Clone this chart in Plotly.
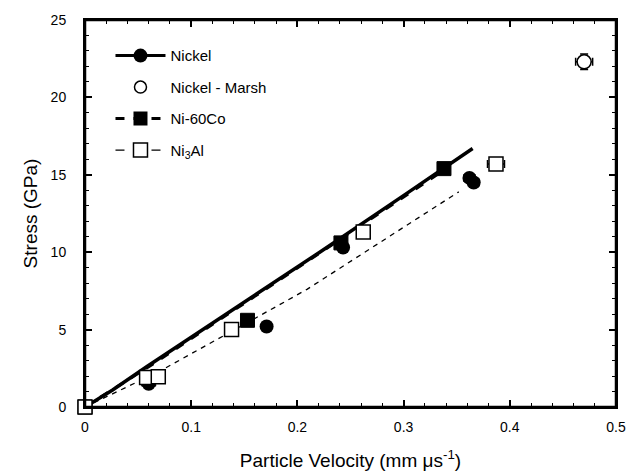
import plotly.graph_objects as go

# ---- data ----
nickel_x = [0.0, 0.060, 0.171, 0.243, 0.362, 0.366]
nickel_y = [0.0, 1.5, 5.2, 10.3, 14.8, 14.5]
nickel_xerr = [0, 0, 0, 0, 0.005, 0.005]

marsh_x = [0.470]
marsh_y = [22.3]
marsh_xerr = [0.008]
marsh_yerr = [0.5]

nico_x = [0.0, 0.060, 0.153, 0.241, 0.338]
nico_y = [0.0, 1.8, 5.6, 10.6, 15.4]
nico_xerr = [0, 0, 0, 0, 0.005]

ni3al_x = [0.0, 0.058, 0.069, 0.138, 0.262, 0.387]
ni3al_y = [0.0, 1.9, 1.95, 5.0, 11.3, 15.7]
ni3al_xerr = [0, 0, 0, 0, 0, 0.008]

# fitted / hugoniot curves
nickel_line_x = [0.0, 0.026, 0.058, 0.10, 0.152, 0.221, 0.303, 0.365]
nickel_line_y = [0.0, 1.1, 2.6, 4.5, 6.9, 10.0, 13.8, 16.7]
nico_line_x = [0.0, 0.06, 0.15, 0.24, 0.338]
nico_line_y = [0.0, 2.6, 6.7, 10.8, 15.3]
ni3al_line_x = [0.0, 0.07, 0.183, 0.209, 0.268, 0.327, 0.352]
ni3al_line_y = [0.0, 2.3, 6.6, 7.6, 10.2, 12.8, 13.9]

FONT = "Liberation Sans, Arial, sans-serif"

fig = go.Figure()

# curves
fig.add_trace(go.Scatter(x=nico_line_x, y=nico_line_y, mode="lines",
                         line=dict(color="black", width=3, dash="dash"), showlegend=False))
fig.add_trace(go.Scatter(x=ni3al_line_x, y=ni3al_line_y, mode="lines",
                         line=dict(color="black", width=1.3, dash="5px,5px"), showlegend=False))
fig.add_trace(go.Scatter(x=nickel_line_x, y=nickel_line_y, mode="lines",
                         line=dict(color="black", width=3.5), showlegend=False))

# points
fig.add_trace(go.Scatter(x=nickel_x, y=nickel_y, mode="markers", cliponaxis=False,
                         marker=dict(symbol="circle", size=14, color="black"),
                         error_x=dict(type="data", array=nickel_xerr, color="black", thickness=1.5, width=4),
                         showlegend=False))
fig.add_trace(go.Scatter(x=nico_x, y=nico_y, mode="markers", cliponaxis=False,
                         marker=dict(symbol="square", size=14, color="black",
                                     line=dict(color="black", width=1)),
                         error_x=dict(type="data", array=nico_xerr, color="black", thickness=1.5, width=4),
                         showlegend=False))
fig.add_trace(go.Scatter(x=ni3al_x, y=ni3al_y, mode="markers", cliponaxis=False,
                         marker=dict(symbol="square", size=14, color="white",
                                     line=dict(color="black", width=1.5)),
                         error_x=dict(type="data", array=ni3al_xerr, color="black", thickness=1.5, width=4),
                         showlegend=False))
fig.add_trace(go.Scatter(x=marsh_x, y=marsh_y, mode="markers",
                         marker=dict(symbol="circle", size=14, color="white",
                                     line=dict(color="black", width=1.5)),
                         error_x=dict(type="data", array=marsh_xerr, color="black", thickness=1.5, width=4),
                         error_y=dict(type="data", array=marsh_yerr, color="black", thickness=1.5, width=4),
                         showlegend=False))

# legend entries
fig.add_trace(go.Scatter(x=[None], y=[None], mode="lines+markers", name="Nickel", legendgroup="a",
                         line=dict(color="black", width=3),
                         marker=dict(symbol="circle", size=14, color="black")))
fig.add_trace(go.Scatter(x=[None], y=[None], mode="markers", name="Nickel - Marsh", legendgroup="b",
                         marker=dict(symbol="circle", size=12, color="white",
                                     line=dict(color="black", width=1.5))))
fig.add_trace(go.Scatter(x=[None], y=[None], mode="lines+markers", name="Ni-60Co", legendgroup="c",
                         line=dict(color="black", width=3, dash="dash"),
                         marker=dict(symbol="square", size=14, color="black")))
fig.add_trace(go.Scatter(x=[None], y=[None], mode="lines+markers", name="Ni<sub>3</sub>Al", legendgroup="d",
                         line=dict(color="black", width=1.2, dash="dash"),
                         marker=dict(symbol="square", size=14, color="white",
                                     line=dict(color="black", width=1.5))))

axis_common = dict(showline=True, linecolor="black", linewidth=2, mirror="allticks",
                   ticks="inside", tickcolor="black", tickwidth=1.5, ticklen=7,
                   showgrid=False, zeroline=False, automargin=False,
                   tickfont=dict(family=FONT, size=14, color="black"))

fig.update_layout(
    width=633, height=472,
    margin=dict(l=85, r=17, t=20, b=65),
    paper_bgcolor="white", plot_bgcolor="white",
    font=dict(family=FONT, color="black"),
    xaxis=dict(range=[0, 0.5], dtick=0.1, tickformat="~g", ticklabelstandoff=6,
               minor=dict(dtick=0.02, ticks="inside", ticklen=4, tickcolor="black", tickwidth=1.2),
               title=dict(text="Particle Velocity (mm μs<sup>-1</sup>)", font=dict(size=19), standoff=20),
               **axis_common),
    yaxis=dict(range=[0, 25], dtick=5, ticklabelstandoff=14,
               minor=dict(dtick=1, ticks="inside", ticklen=4, tickcolor="black", tickwidth=1.2),
               title=dict(text="Stress (GPa)", font=dict(size=19), standoff=8),
               **axis_common),
    legend=dict(x=0.048, y=0.95, xanchor="left", yanchor="top",
                bgcolor="rgba(0,0,0,0)", font=dict(family=FONT, size=15, color="black"),
                traceorder="grouped", tracegroupgap=9, itemwidth=50),
    shapes=[dict(type="rect", xref="paper", yref="paper", x0=0, y0=0, x1=1, y1=1,
                 line=dict(color="black", width=2.5), layer="above")],
)

fig.write_html("out.html", config={"displayModeBar": False},
               post_script="document.body.style.margin='0';document.body.style.padding='0';document.body.style.overflow='hidden';")
